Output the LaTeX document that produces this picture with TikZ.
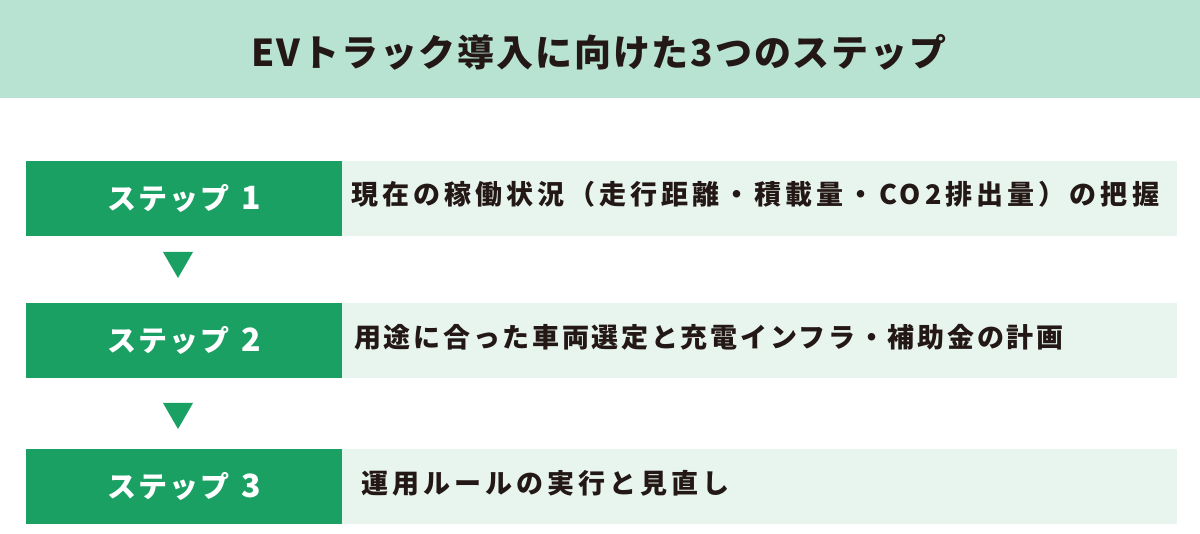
\documentclass[tikz,border=0pt]{standalone}
\usepackage{fontspec}
\setmainfont{Noto Sans CJK JP}
\newfontfamily\titlefont[LetterSpace=5]{Noto Sans CJK JP}
\newfontfamily\stepfont[LetterSpace=7]{Noto Sans CJK JP}
\newfontfamily\descfont[LetterSpace=15]{Noto Sans CJK JP}
\newfontfamily\descfontb[LetterSpace=10]{Noto Sans CJK JP}
\definecolor{titlebg}{HTML}{B8E2D2}
\definecolor{stepgreen}{HTML}{1BA064}
\definecolor{lightbg}{HTML}{E8F5EF}
\definecolor{textdark}{HTML}{231815}
\newcommand{\stepnum}[1]{\hspace{12pt}{\fontsize{32}{34}\selectfont #1}}
\tikzset{
  stepbox/.style={fill=stepgreen, text=white, minimum width=316pt, minimum height=75pt, inner sep=0pt, anchor=north west, font=\stepfont\bfseries\fontsize{29}{32}\selectfont},
  descbox/.style={fill=lightbg, minimum width=835pt, minimum height=75pt, inner sep=0pt, anchor=north west},
  desctext/.style={text=textdark, anchor=west, inner sep=0pt, font=\descfont\bfseries\fontsize{27}{30}\selectfont},
  arrowtri/.style={fill=stepgreen}
}
\begin{document}
\begin{tikzpicture}[x=1pt,y=-1pt]
\useasboundingbox (0,0) rectangle (1200,534);
\fill[white] (0,0) rectangle (1200,534);
\node[fill=titlebg, minimum width=1200pt, minimum height=98pt, inner sep=0pt, anchor=north west] (titlebar) at (0,0) {};
\node[text=textdark, font=\titlefont\bfseries\fontsize{37}{40}\selectfont] (title) at (599,52) {EVトラック導入に向けた3つのステップ};

\node[descbox] (d1) at (342,161) {};
\node[descbox] (d2) at (342,303) {};
\node[descbox] (d3) at (342,449) {};
\node[stepbox] (s1) at (26,161) {ステップ\stepnum{1}};
\node[stepbox] (s2) at (26,303) {ステップ\stepnum{2}};
\node[stepbox] (s3) at (26,449) {ステップ\stepnum{3}};

\node[desctext] (t1) at (351,194) {現在の稼働状況（走行距離・積載量・CO2排出量）の把握};
\node[desctext, font=\descfontb\bfseries\fontsize{27}{30}\selectfont] (t2) at (354,337) {用途に合った車両選定と充電インフラ・補助金の計画};
\node[desctext] (t3) at (361,483) {運用ルールの実行と見直し};

\fill[arrowtri] (163,252) -- (193,252) -- (178,278) -- cycle;
\fill[arrowtri] (163,403) -- (193,403) -- (178,429) -- cycle;
\end{tikzpicture}
\end{document}
